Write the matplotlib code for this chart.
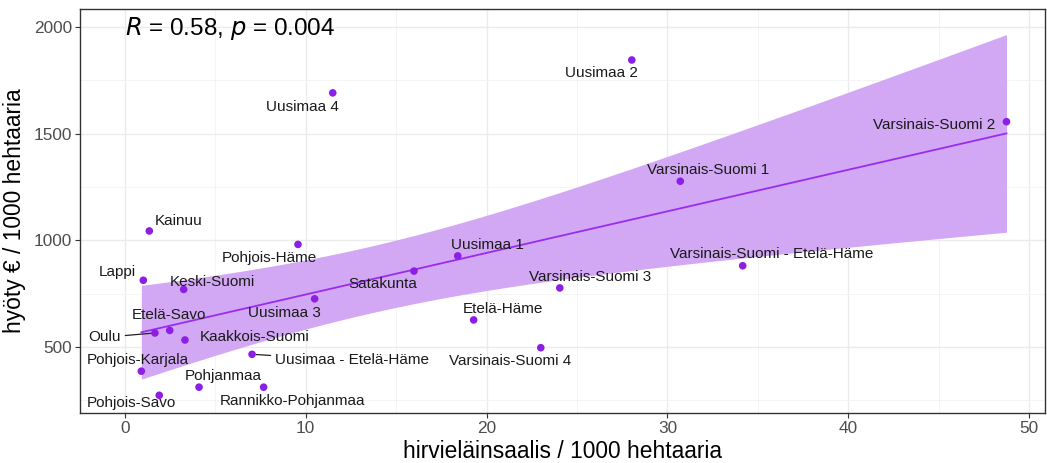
import numpy as np
import matplotlib
matplotlib.use("Agg")
import matplotlib.pyplot as plt
from matplotlib.ticker import MultipleLocator

plt.rcParams['font.family'] = ['Liberation Sans', 'DejaVu Sans']

# ---- data ----
regions = ["Kainuu", "Uusimaa 4", "Uusimaa 2", "Varsinais-Suomi 2", "Varsinais-Suomi 1",
           "Varsinais-Suomi - Etelä-Häme", "Varsinais-Suomi 3", "Varsinais-Suomi 4",
           "Pohjois-Häme", "Lappi", "Keski-Suomi", "Satakunta", "Uusimaa 1", "Uusimaa 3",
           "Etelä-Häme", "Etelä-Savo", "Oulu", "Kaakkois-Suomi", "Uusimaa - Etelä-Häme",
           "Pohjois-Karjala", "Pohjanmaa", "Rannikko-Pohjanmaa", "Pohjois-Savo"]
saalis = [1.36, 11.5, 28.03, 48.74, 30.71, 34.16, 24.05, 23.0,
          9.58, 1.03, 3.26, 15.99, 18.41, 10.5, 19.29, 2.49, 1.67, 3.33, 7.04,
          0.92, 4.11, 7.68, 1.91]
hyoty = [1044, 1691, 1845, 1556, 1277, 881, 777, 497,
         981, 813, 770, 856, 927, 726, 627, 578, 566, 533, 466,
         387, 312, 312, 274]

# label offsets (pixels, right / up) -- styling only
label_dx = [29, -30, -30, -72, 28, 28.6, 30, -31,
            -29, -26.5, 29, -31, 29.5, -30.4, 29, -0.7, -50, 69.8, 99.7,
            -3.6, 23.8, 29, -28]
label_dy = [10, -13.7, -12.7, -3.6, 11, 11.4, 11.3, -13.3,
            -13.4, 8.6, 7.6, -13, 11, -14.6, 10.7, 15.3, -4.3, 3.3, -6,
            11.3, 11, -13.7, -8]
leader = ["Oulu", "Uusimaa - Etelä-Häme"]

stat_text = r"$\it{R}$ = 0.58, $\it{p}$ = 0.004"
xlabel = "hirvieläinsaalis / 1000 hehtaaria"
ylabel = "hyöty € / 1000 hehtaaria"

# ---- regression ----
x = np.array(saalis)
y = np.array(hyoty)
n = len(x)
b1, b0 = np.polyfit(x, y, 1)
xs = np.linspace(x.min(), x.max(), 200)
fit = b0 + b1 * xs
resid = y - (b0 + b1 * x)
s = np.sqrt(np.sum(resid ** 2) / (n - 2))
sxx = np.sum((x - x.mean()) ** 2)
t975 = 2.080  # t quantile, df = 21
se = s * np.sqrt(1 / n + (xs - x.mean()) ** 2 / sxx)

# ---- figure ----
fig = plt.figure(figsize=(10.47, 4.63), dpi=100)
ax = fig.add_axes([80 / 1047, 1 - 413 / 463, 965 / 1047, 404 / 463])

ax.fill_between(xs, fit - t975 * se, fit + t975 * se, color="#D2A8F5", lw=0, zorder=1)
ax.plot(xs, fit, color="#9A2BF0", lw=1.3, zorder=2)
ax.scatter(x, y, s=30, color="#8C1EE6", zorder=3, edgecolors="none")

for name, xi, yi, dx, dy in zip(regions, saalis, hyoty, label_dx, label_dy):
    kw = {}
    if name in leader:
        kw["arrowprops"] = dict(arrowstyle="-", color="#222222", lw=0.9,
                                shrinkA=1, shrinkB=3)
    ax.annotate(name, (xi, yi), xytext=(dx, dy), textcoords="offset pixels",
                ha="center", va="center", fontsize=11, color="#1a1a1a", zorder=4, **kw)

ax.text(0.0466, 0.952, stat_text, transform=ax.transAxes, ha="left", va="center",
        fontsize=17.5, color="black")

ax.set_xlim(-2.47, 50.87)
ax.set_ylim(191, 2084)
ax.xaxis.set_major_locator(MultipleLocator(10))
ax.xaxis.set_minor_locator(MultipleLocator(5))
ax.yaxis.set_major_locator(MultipleLocator(500))
ax.yaxis.set_minor_locator(MultipleLocator(250))
ax.grid(True, which="major", color="#EBEBEB", lw=1.0, zorder=0)
ax.grid(True, which="minor", color="#F3F3F3", lw=0.6, zorder=0)
ax.set_axisbelow(True)
ax.tick_params(which="major", length=3.5, width=0.8, color="#333333",
               labelsize=12.4, labelcolor="#4D4D4D", pad=2)
ax.tick_params(which="minor", length=0)
for sp in ax.spines.values():
    sp.set_color("#333333")
    sp.set_linewidth(1.0)

ax.set_xlabel(xlabel, fontsize=16.4, color="black", labelpad=3)
ax.set_ylabel(ylabel, fontsize=16.4, color="black", labelpad=6)

fig.savefig("out.png", dpi=100)
